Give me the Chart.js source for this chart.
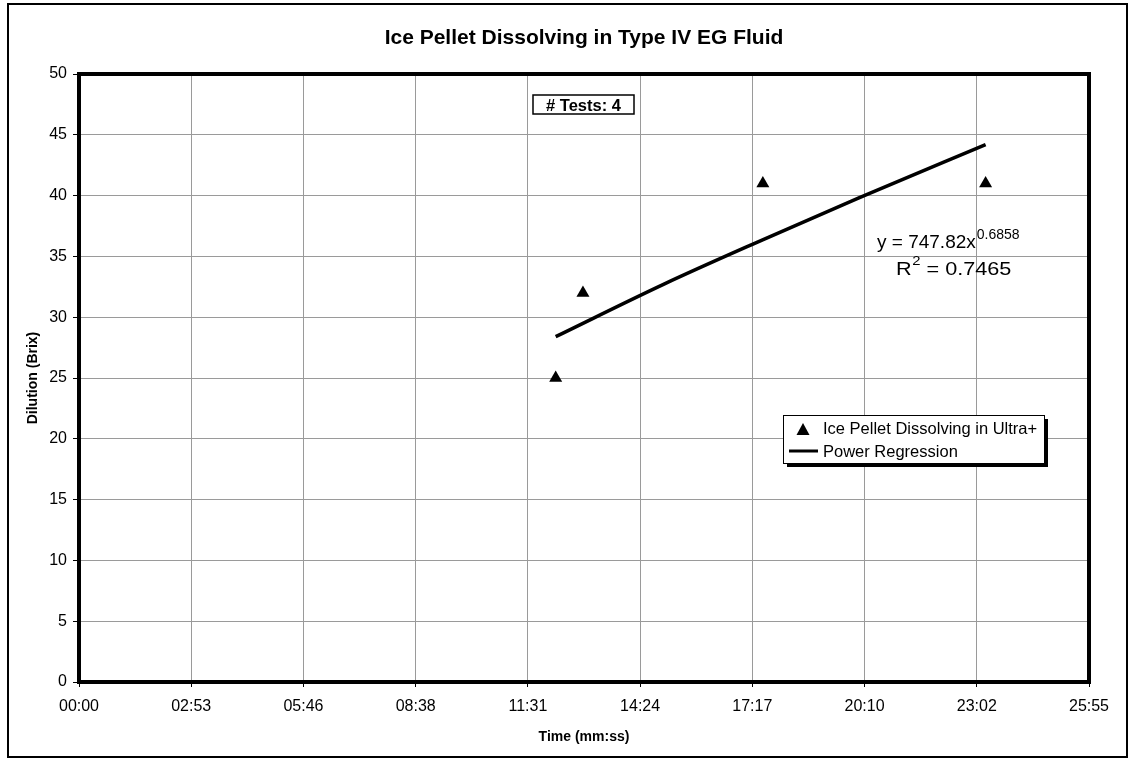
<!DOCTYPE html>
<html>
<head>
<meta charset="utf-8">
<script src="https://cdn.jsdelivr.net/npm/chart.js@4/dist/chart.umd.min.js"></script>
<style>
  html, body { margin: 0; padding: 0; background: #fff; }
  #wrap { width: 1134px; height: 759px; position: relative; }
</style>
</head>
<body>
<div id="wrap"><canvas id="c" width="1134" height="759"></canvas></div>
<script>
// ---- Data (time in seconds) ----
const TITLE = 'Ice Pellet Dissolving in Type IV EG Fluid';
const X_TITLE = 'Time (mm:ss)';
const Y_TITLE = 'Dilution (Brix)';
const SERIES_NAME = 'Ice Pellet Dissolving in Ultra+';
const TREND_NAME = 'Power Regression';

const pelletTimes = [734, 776, 1053, 1396];      // 12:14, 12:56, 17:33, 23:16
const pelletDilution = [25, 32, 41, 41];

const trendTimes = [734, 900, 1050, 1200, 1396];
const trendDilution = [28.4, 32.7, 36.3, 39.8, 44.2];

const xTickSeconds = [0, 172.8, 345.6, 518.4, 691.2, 864, 1036.8, 1209.6, 1382.4, 1555.2];
const xTickLabels = ['00:00', '02:53', '05:46', '08:38', '11:31', '14:24', '17:17', '20:10', '23:02', '25:55'];
const yTickValues = [0, 5, 10, 15, 20, 25, 30, 35, 40, 45, 50];

const EQUATION = 'y = 747.82x';
const EQ_EXP = '0.6858';
const R2_VALUE = ' = 0.7465';
const TESTS_LABEL = '# Tests: 4';

const FONT = '"Liberation Sans", Arial, sans-serif';

const decor = {
  id: 'decor',
  afterDatasetsDraw(chart) {
    const ctx = chart.ctx;
    const a = chart.chartArea;
    ctx.save();
    // plot border
    ctx.strokeStyle = '#000';
    ctx.lineWidth = 4;
    ctx.strokeRect(a.left, a.top, a.right - a.left, a.bottom - a.top);
    // outer border
    ctx.lineWidth = 2;
    ctx.strokeRect(8, 4, 1119, 753);

    ctx.fillStyle = '#000';
    // title
    ctx.font = 'bold 21px ' + FONT;
    ctx.textAlign = 'center';
    ctx.textBaseline = 'alphabetic';
    ctx.fillText(TITLE, (a.left + a.right) / 2, 44);

    // x title
    ctx.font = 'bold 14px ' + FONT;
    ctx.fillText(X_TITLE, (a.left + a.right) / 2, 741);

    // y title
    ctx.save();
    ctx.translate(37, (a.top + a.bottom) / 2);
    ctx.rotate(-Math.PI / 2);
    ctx.fillText(Y_TITLE, 0, 0);
    ctx.restore();

    // # Tests box
    ctx.fillStyle = '#fff';
    ctx.fillRect(533, 95, 101, 19);
    ctx.lineWidth = 1.5;
    ctx.strokeRect(533, 95, 101, 19);
    ctx.fillStyle = '#000';
    ctx.font = 'bold 16.5px ' + FONT;
    ctx.textAlign = 'center';
    ctx.fillText(TESTS_LABEL, 583.5, 110.5);

    // equation
    ctx.textAlign = 'left';
    ctx.font = '19px ' + FONT;
    ctx.fillText(EQUATION, 877, 248);
    let w = ctx.measureText(EQUATION).width;
    ctx.font = '14px ' + FONT;
    ctx.fillText(EQ_EXP, 877 + w + 1, 239);

    // R² line (slightly widened like the reference)
    ctx.save();
    ctx.translate(896, 275);
    ctx.scale(1.14, 1);
    ctx.font = '19px ' + FONT;
    ctx.fillText('R', 0, 0);
    let wr = ctx.measureText('R').width;
    ctx.font = '13px ' + FONT;
    ctx.fillText('2', wr + 0.5, -10);
    let w2 = ctx.measureText('2').width;
    ctx.font = '19px ' + FONT;
    ctx.fillText(R2_VALUE, wr + w2 + 0.5, 0);
    ctx.restore();

    // legend
    const lx = 783, ly = 415, lw = 261, lh = 48;
    ctx.fillStyle = '#000';
    ctx.fillRect(lx + 4, ly + 4, lw, lh);
    ctx.fillStyle = '#fff';
    ctx.fillRect(lx, ly, lw, lh);
    ctx.lineWidth = 1;
    ctx.strokeStyle = '#000';
    ctx.strokeRect(lx + 0.5, ly + 0.5, lw, lh);
    // triangle marker
    ctx.fillStyle = '#000';
    ctx.beginPath();
    ctx.moveTo(803, 423);
    ctx.lineTo(809.5, 435);
    ctx.lineTo(796.5, 435);
    ctx.closePath();
    ctx.fill();
    // line marker
    ctx.lineWidth = 3;
    ctx.beginPath();
    ctx.moveTo(789, 451);
    ctx.lineTo(818, 451);
    ctx.stroke();
    ctx.font = '16.5px ' + FONT;
    ctx.textBaseline = 'middle';
    ctx.fillText(SERIES_NAME, 823, 429);
    ctx.fillText(TREND_NAME, 823, 452);
    ctx.restore();
  }
};

new Chart(document.getElementById('c'), {
  type: 'scatter',
  data: {
    datasets: [
      {
        label: SERIES_NAME,
        data: pelletTimes.map((t, i) => ({ x: t, y: pelletDilution[i] })),
        pointStyle: 'triangle',
        pointRadius: 7.5,
        pointHoverRadius: 7.5,
        backgroundColor: '#000',
        borderColor: '#000',
        borderWidth: 0,
        showLine: false
      },
      {
        label: TREND_NAME,
        data: trendTimes.map((t, i) => ({ x: t, y: trendDilution[i] })),
        showLine: true,
        pointRadius: 0,
        borderColor: '#000',
        borderWidth: 3.5,
        cubicInterpolationMode: 'monotone',
        fill: false
      }
    ]
  },
  options: {
    responsive: false,
    animation: false,
    devicePixelRatio: 1,
    layout: { padding: { top: 74, right: 45, left: 0, bottom: 0 } },
    plugins: { legend: { display: false }, title: { display: false }, tooltip: { enabled: false } },
    scales: {
      x: {
        type: 'linear',
        min: 0,
        max: 1555.2,
        afterBuildTicks: s => { s.ticks = xTickSeconds.map(v => ({ value: v })); },
        afterFit: s => { s.height = 77; },
        ticks: {
          autoSkip: false,
          maxRotation: 0,
          color: '#000',
          padding: 10,
          font: { family: FONT, size: 16 },
          callback: (v, i) => xTickLabels[i]
        },
        grid: { color: '#9a9a9a', lineWidth: 1, tickColor: '#000', tickLength: 5, drawTicks: true },
        border: { display: false }
      },
      y: {
        min: 0,
        max: 50,
        afterBuildTicks: s => { s.ticks = yTickValues.map(v => ({ value: v })); },
        afterFit: s => { s.width = 79; },
        ticks: {
          color: '#000',
          padding: 6,
          font: { family: FONT, size: 16 },
          callback: v => String(v)
        },
        grid: { color: '#9a9a9a', lineWidth: 1, tickColor: '#000', tickLength: 6, drawTicks: true },
        border: { display: false }
      }
    }
  },
  plugins: [decor]
});
</script>
</body>
</html>
